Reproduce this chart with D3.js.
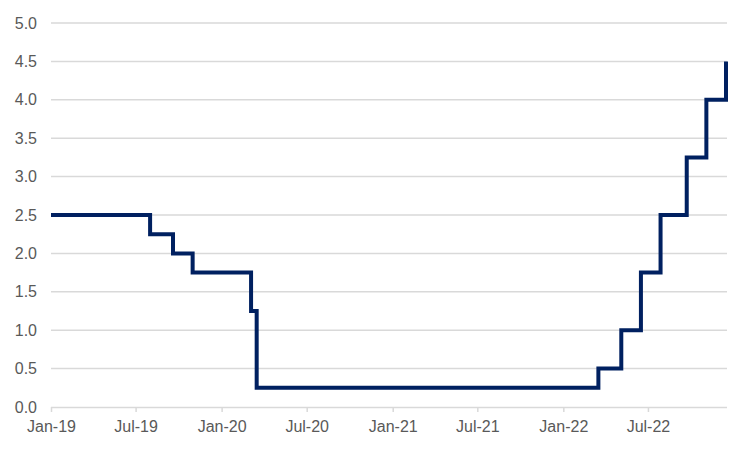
<!DOCTYPE html>
<html><head><meta charset="utf-8">
<script src="https://cdn.jsdelivr.net/npm/d3@7"></script>
<style>body{margin:0;background:#fff}svg{display:block}</style>
</head><body>
<svg id="c" width="750" height="450"></svg>
<script>
const changeDates = ["2019-01-01","2019-08-01","2019-09-19","2019-10-31","2020-03-04","2020-03-16","2022-03-17","2022-05-05","2022-06-16","2022-07-28","2022-09-22","2022-11-03","2022-12-15"];
const rates = [2.5,2.25,2.0,1.75,1.25,0.25,0.5,1.0,1.75,2.5,3.25,4.0,4.5];
const xTickLabels = ["Jan-19","Jul-19","Jan-20","Jul-20","Jan-21","Jul-21","Jan-22","Jul-22"];
const yTicks = [0,0.5,1,1.5,2,2.5,3,3.5,4,4.5,5];

const parse = d3.timeParse("%Y-%m-%d");
const data = changeDates.map((d,i)=>({date:parse(d), v:rates[i]}));
const svg = d3.select("#c");
const x = d3.scaleTime().domain([parse("2019-01-01"), parse("2022-12-15")]).range([51,726]);
const y = d3.scaleLinear().domain([0,5]).range([407,23]);
const font = "'Liberation Sans', Arial, sans-serif";

// gridlines
svg.append("g").selectAll("line").data(yTicks.filter(t=>t>0)).join("line")
  .attr("x1",51).attr("x2",727).attr("y1",d=>y(d)).attr("y2",d=>y(d))
  .attr("stroke","#d9d9d9").attr("stroke-width",1.5);

// y labels
svg.append("g").selectAll("text").data(yTicks).join("text")
  .attr("x",37).attr("y",d=>y(d)).attr("dy","0.35em").attr("text-anchor","end")
  .attr("font-family",font).attr("font-size",16).attr("fill","#595959")
  .text(d=>d3.format(".1f")(d));

// x axis
const xTickDates = xTickLabels.map(s=>d3.timeParse("%b-%y")(s));
const xAxis = d3.axisBottom(x).tickValues(xTickDates).tickSize(5).tickPadding(9)
  .tickFormat((d,i)=>xTickLabels[i]);
const gx = svg.append("g").attr("transform","translate(0,407)").call(xAxis);
gx.select(".domain").attr("stroke","#d9d9d9").attr("stroke-width",1.5).attr("d","M51,0.5H727");
gx.selectAll(".tick line").attr("stroke","#d9d9d9").attr("stroke-width",1.5);
gx.selectAll(".tick text").attr("font-family",font).attr("font-size",16).attr("fill","#595959");

// line
const line = d3.line().x(d=>x(d.date)).y(d=>y(d.v)).curve(d3.curveStepAfter);
svg.append("path").datum(data).attr("d",line).attr("fill","none")
  .attr("stroke","#002060").attr("stroke-width",4).attr("stroke-linejoin","miter");
</script>
</body></html>
